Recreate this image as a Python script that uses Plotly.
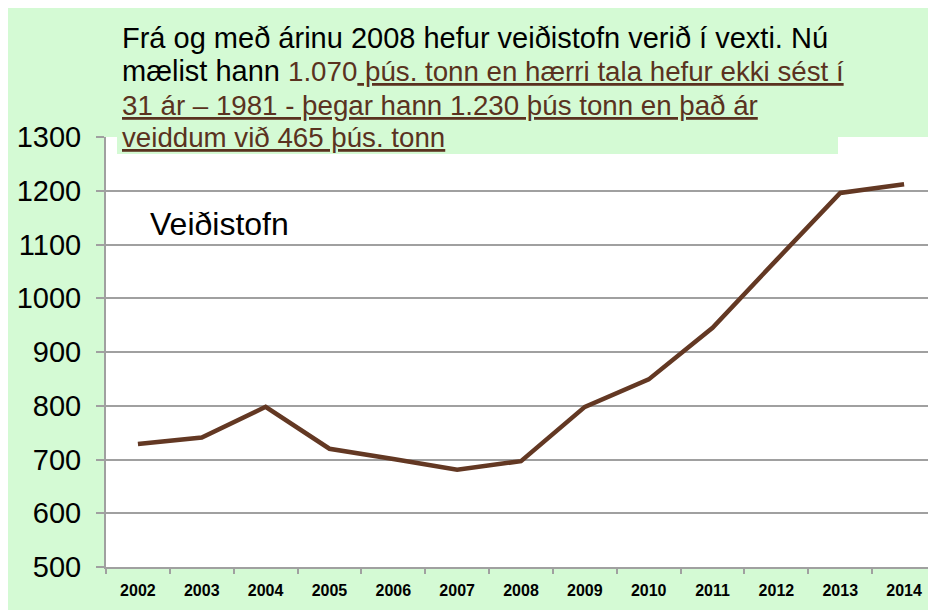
import plotly.graph_objects as go

years = ["2002", "2003", "2004", "2005", "2006", "2007", "2008",
         "2009", "2010", "2011", "2012", "2013", "2014"]
stock = [729, 741, 798, 720, 701, 681, 697, 798, 849, 945, 1071, 1196, 1212]
series_name = "Veiðistofn"
y_ticks = [500, 600, 700, 800, 900, 1000, 1100, 1200, 1300]

BG = "#D4FAD4"
BROWN = "#633823"
TXT_BROWN = "#5A3220"
GRID = "#A0A0A0"
FONT = "Liberation Sans, Arial, sans-serif"

FIG_W, FIG_H = 928, 602
# plot area in figure pixels
L, R_, T, B = 98, 928, 129, 559
W, H = R_ - L, B - T


def px(x):
    return (x - L) / W


def py(y):
    return (B - y) / H


fig = go.Figure()
fig.add_trace(go.Scatter(
    x=years, y=stock, mode="lines", name=series_name,
    line=dict(color=BROWN, width=4.5), showlegend=False,
))

shapes = [
    # green text box overlapping the plot top
    dict(type="rect", xref="paper", yref="paper", x0=px(109), x1=px(830), y0=py(146), y1=py(100),
         fillcolor=BG, line=dict(width=0), layer="above"),
]

BS = "color:%s;font-size:27.7px" % TXT_BROWN
lines = [
    ("Frá og með árinu 2008 hefur veiðistofn verið í vexti. Nú", 30),
    ("mælist hann <span style='%s'>1.070</span><span style='%s'><u> þús. tonn en hærri tala hefur ekki sést í</u></span>" % (BS, BS), 63),
    ("<span style='%s'><u>31 ár – 1981 - þegar hann 1.230 þús tonn en það ár</u></span>" % BS, 97),
    ("<span style='%s'><u>veiddum við 465 þús. tonn</u></span>" % BS, 129),
]
annotations = []
for text, y in lines:
    annotations.append(dict(
        text=text, xref="paper", yref="paper", x=px(112), y=py(y),
        xanchor="left", yanchor="middle", showarrow=False,
        font=dict(family=FONT, size=29, color="black"),
    ))
annotations.append(dict(
    text=series_name, xref="paper", yref="paper", x=px(140), y=py(216),
    xanchor="left", yanchor="middle", showarrow=False,
    font=dict(family=FONT, size=32, color="black"),
))

fig.update_layout(
    width=FIG_W, height=FIG_H,
    margin=dict(l=L, r=FIG_W - R_, t=T, b=FIG_H - B, pad=0),
    paper_bgcolor=BG, plot_bgcolor="white",
    shapes=shapes, annotations=annotations,
    xaxis=dict(
        type="category", range=[-0.5, 12.5], tickson="boundaries",
        ticks="outside", ticklen=5, tickwidth=1.5, tickcolor=GRID,
        showline=True, linecolor=GRID, linewidth=2, showgrid=False,
        tickfont=dict(family=FONT, size=16, color="black", weight="bold"),
        ticklabelstandoff=8,
    ),
    yaxis=dict(
        range=[500, 1300], tickvals=y_ticks,
        ticks="outside", ticklen=8, tickwidth=1.5, tickcolor=GRID,
        showline=True, linecolor=GRID, linewidth=2,
        showgrid=True, gridcolor=GRID, gridwidth=2,
        tickfont=dict(family=FONT, size=29, color="black"),
        ticklabelstandoff=9, zeroline=False,
    ),
)

fig.write_html("out.html")
